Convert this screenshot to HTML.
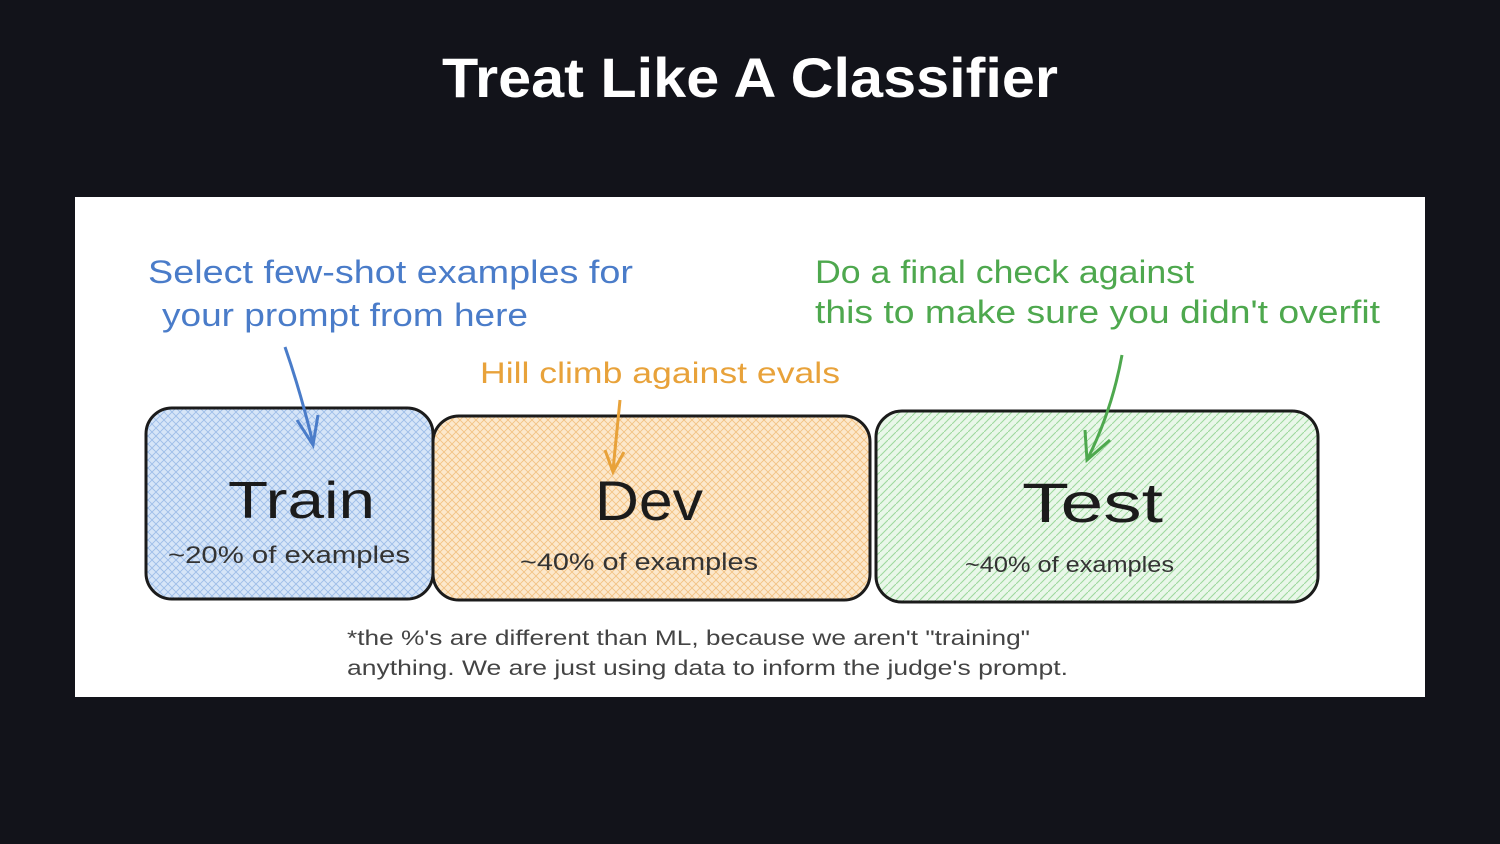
<!DOCTYPE html>
<html><head><meta charset="utf-8"><style>
html,body{margin:0;padding:0;background:#12131a;width:1500px;height:844px;overflow:hidden}
</style></head><body>
<svg width="1500" height="844" viewBox="0 0 1500 844" xmlns="http://www.w3.org/2000/svg" style="display:block">
<defs>
<pattern id="hb" width="8" height="8" patternUnits="userSpaceOnUse"><rect width="8" height="8" fill="#d6e5f8"/><path d="M0 8L8 0M0 0L8 8" stroke="#9dbde8" stroke-width="0.9"/></pattern>
<pattern id="ho" width="8" height="8" patternUnits="userSpaceOnUse"><rect width="8" height="8" fill="#fce8cc"/><path d="M0 8L8 0M0 0L8 8" stroke="#f2c283" stroke-width="0.9"/></pattern>
<pattern id="hg" width="8" height="8" patternUnits="userSpaceOnUse"><rect width="8" height="8" fill="#e9f7e9"/><path d="M0 8L8 0" stroke="#9ed89e" stroke-width="1.1"/></pattern>
</defs>
<rect width="1500" height="844" fill="#12131a"/>
<text x="442" y="97" textLength="616" lengthAdjust="spacingAndGlyphs" font-family="Liberation Sans, sans-serif" font-weight="bold" font-size="56" fill="#fff">Treat Like A Classifier</text>
<rect x="75" y="197" width="1350" height="500" fill="#fff"/>
<g font-family="Liberation Sans, sans-serif" lengthAdjust="spacingAndGlyphs">
<text x="148" y="283" textLength="485" lengthAdjust="spacingAndGlyphs" font-size="32" fill="#4a7cc9">Select few-shot examples for</text>
<text x="162" y="326" textLength="366" lengthAdjust="spacingAndGlyphs" font-size="32" fill="#4a7cc9">your prompt from here</text>
<text x="815" y="283" textLength="379" lengthAdjust="spacingAndGlyphs" font-size="32" fill="#4ea84e">Do a final check against</text>
<text x="815" y="323" textLength="565" lengthAdjust="spacingAndGlyphs" font-size="32" fill="#4ea84e">this to make sure you didn't overfit</text>
<text x="480" y="383" textLength="360" lengthAdjust="spacingAndGlyphs" font-size="30" fill="#e8a23a">Hill climb against evals</text>
<rect x="146" y="408" width="287" height="191" rx="26" fill="url(#hb)" stroke="#1b1b1b" stroke-width="3"/>
<rect x="433" y="416" width="437" height="184" rx="26" fill="url(#ho)" stroke="#1b1b1b" stroke-width="3"/>
<rect x="876" y="411" width="442" height="191" rx="26" fill="url(#hg)" stroke="#1b1b1b" stroke-width="3"/>
<path d="M285 347 Q300 390 313 443" stroke="#4a7cc9" stroke-width="3" fill="none"/>
<path d="M297 420 L313 445 L318 415" stroke="#4a7cc9" stroke-width="3" fill="none"/>
<path d="M620 400 L613 470" stroke="#e8a23a" stroke-width="3" fill="none"/>
<path d="M605 450 L613 472 L624 452" stroke="#e8a23a" stroke-width="3" fill="none"/>
<path d="M1122 355 Q1112 410 1088 458" stroke="#4ea84e" stroke-width="3" fill="none"/>
<path d="M1085 430 L1087 460 L1110 440" stroke="#4ea84e" stroke-width="3" fill="none"/>
<text x="228" y="518" textLength="147" lengthAdjust="spacingAndGlyphs" font-size="52" fill="#1b1b1b">Train</text>
<text x="595" y="520" textLength="108" lengthAdjust="spacingAndGlyphs" font-size="56" fill="#1b1b1b">Dev</text>
<text x="1022" y="522" textLength="141" lengthAdjust="spacingAndGlyphs" font-size="56" fill="#1b1b1b">Test</text>
<text x="168" y="563" textLength="242" lengthAdjust="spacingAndGlyphs" font-size="24" fill="#333">~20% of examples</text>
<text x="520" y="570" textLength="238" lengthAdjust="spacingAndGlyphs" font-size="24" fill="#333">~40% of examples</text>
<text x="965" y="572" textLength="209" lengthAdjust="spacingAndGlyphs" font-size="22" fill="#333">~40% of examples</text>
<text x="347" y="645" textLength="683" lengthAdjust="spacingAndGlyphs" font-size="21" fill="#444">*the %'s are different than ML, because we aren't "training"</text>
<text x="347" y="675" textLength="721" lengthAdjust="spacingAndGlyphs" font-size="21" fill="#444">anything.  We are just using data to inform the judge's prompt.</text>
</g>
</svg>
</body></html>
